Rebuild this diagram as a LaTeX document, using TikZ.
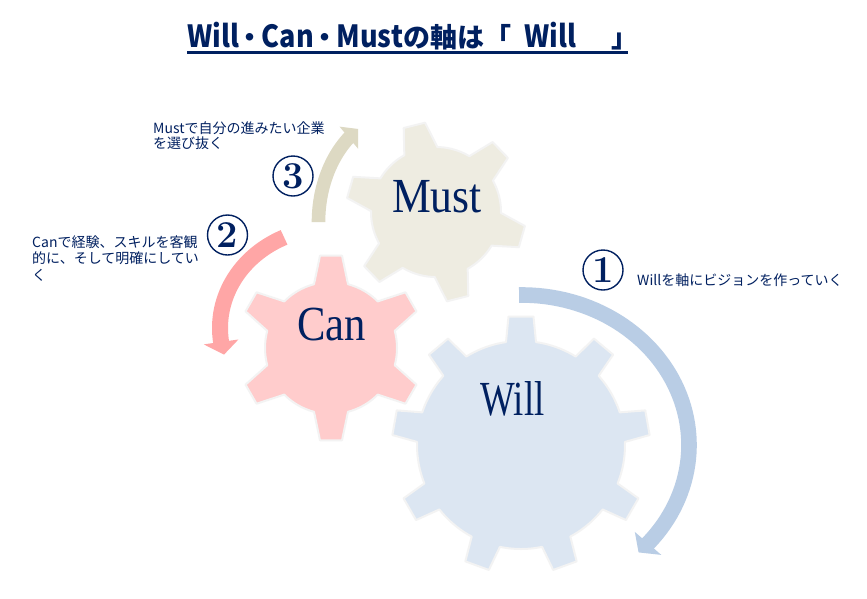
\documentclass[tikz,border=0pt]{standalone}
\usepackage{fontspec}
\usepackage{graphicx}
\newfontfamily\jp{Noto Sans CJK JP}
\newfontfamily\lserif{Liberation Serif}
\definecolor{navy}{RGB}{0,32,96}
\definecolor{willfill}{RGB}{220,230,242}
\definecolor{canfill}{RGB}{255,204,204}
\definecolor{mustfill}{RGB}{238,236,225}
\definecolor{willarr}{RGB}{185,205,229}
\definecolor{canarr}{RGB}{255,166,166}
\definecolor{mustarr}{RGB}{221,217,195}
\definecolor{gearedge}{RGB}{243,243,243}
\tikzset{
  gearstyle/.style={draw=gearedge, line width=2pt, line join=round},
  glabel/.style={inner sep=0pt, text=navy, font=\lserif\fontsize{49}{49}\selectfont},
  numcirc/.style={circle, draw=navy, line width=1.4pt, minimum size=40pt, inner sep=0pt, text=navy, font=\fontsize{38}{38}\selectfont\bfseries},
  note/.style={inner sep=0pt, text=navy, font=\jp\fontsize{14}{16}\selectfont},
  titletext/.style={inner sep=0pt, text=navy, font=\jp\bfseries\fontsize{27}{30}\selectfont}
}
\newcommand{\tl}[1]{\scalebox{1.0}[1.13]{#1}}
% gear: cx cy N theta0 rbody rtip wbase wtip fill
\newcommand{\drawgear}[9]{%
  \pgfmathsetmacro{\gstep}{360/#3}%
  \pgfmathsetmacro{\gab}{asin(#7/#5)}%
  \pgfmathsetmacro{\gat}{asin(#8/#6)}%
  \pgfmathsetmacro{\gspan}{\gstep-2*\gab}%
  \pgfmathtruncatemacro{\glast}{#3-1}%
  \filldraw[gearstyle, fill=#9, shift={(#1,#2)}] ({#4-\gab}:#5)
    \foreach \k in {0,...,\glast}{
      -- ({#4+\k*\gstep-\gab}:#5) -- ({#4+\k*\gstep-\gat}:#6)
      -- ({#4+\k*\gstep+\gat}:#6) -- ({#4+\k*\gstep+\gab}:#5)
      \foreach \j in {1,...,10}{ -- ({#4+\k*\gstep+\gab+\j*\gspan/10}:#5) }
    } -- cycle;
}
% ring arrow: color cx cy a b halfband halfhead t0 t1
\newcommand{\ringarrow}[9]{%
  \pgfmathsetmacro{\rsp}{veclen(#4*sin(#9),#5*cos(#9))}%
  \pgfmathsetmacro{\rtip}{(#9)+sign((#9)-(#8))*13/\rsp*57.2958}%
  \fill[#1] plot[domain=#8:#9,samples=60] ({#2+(#4+#6)*cos(\x)},{#3+(#5+#6)*sin(\x)})
    -- ({#2+(#4+#7)*cos(#9)},{#3+(#5+#7)*sin(#9)})
    -- ({#2+#4*cos(\rtip)},{#3+#5*sin(\rtip)})
    -- ({#2+(#4-#7)*cos(#9)},{#3+(#5-#7)*sin(#9)})
    -- plot[domain=#9:#8,samples=60] ({#2+(#4-#6)*cos(\x)},{#3+(#5-#6)*sin(\x)})
    -- cycle;
}
\begin{document}
\begin{tikzpicture}[x=1pt,y=-1pt]
\useasboundingbox (0,0) rectangle (867,598);
\fill[white] (0,0) rectangle (867,598);

% arrows
\ringarrow{mustarr}{403.5}{222}{85}{110}{6.8}{14.5}{180}{230}
\ringarrow{canarr}{331}{328}{111}{100}{8}{17.5}{-115}{-188}
\ringarrow{willarr}{522}{445}{167}{150}{7.8}{17.5}{-91}{41}

% gears
\drawgear{436}{212}{6}{-104}{65}{90}{17}{11}{mustfill}
\drawgear{331}{348}{6}{-90}{66}{93}{17}{11}{canfill}
\drawgear{521}{445}{9}{-90}{104}{129}{15}{12.5}{willfill}

% gear labels
\node[glabel, anchor=base] (lmust) at (437,212) {\scalebox{0.89}[1]{Must}};
\node[glabel, anchor=base] (lcan) at (331.5,340) {\scalebox{0.87}[1]{Can}};
\node[glabel, anchor=base] (lwill) at (512.5,415) {\scalebox{0.75}[1]{Will}};

% circled numbers
\node[numcirc] (n1) at (603,270) {1};
\node[numcirc] (n2) at (227.5,235) {2};
\node[numcirc] (n3) at (293,176) {3};

% notes
\node[note, anchor=base west] (t1) at (637,285.3) {Willを軸にビジョンを作っていく};
\node[note, anchor=base west] (t2a) at (32,247.3) {Canで経験、スキルを客観};
\node[note, anchor=base west] (t2b) at (32,263.8) {的に、そして明確にしてい};
\node[note, anchor=base west] (t2c) at (32,280.3) {く};
\node[note, anchor=base west] (t3a) at (153,133.3) {Mustで自分の進みたい企業};
\node[note, anchor=base west] (t3b) at (153,148.8) {を選び抜く};

% title
\node[titletext, anchor=base west] (title) at (187,47) {\tl{Will}\hspace{-0.08em}・\hspace{-0.08em}\tl{Can}\hspace{-0.08em}・\hspace{-0.08em}\tl{Must}の軸は「\hspace{0.5em}\tl{Will}\hspace{1.3em}」};
\draw[navy, line width=2.5pt] ([yshift=-5.5pt]title.base west) -- ++(441,0);
\end{tikzpicture}
\end{document}
